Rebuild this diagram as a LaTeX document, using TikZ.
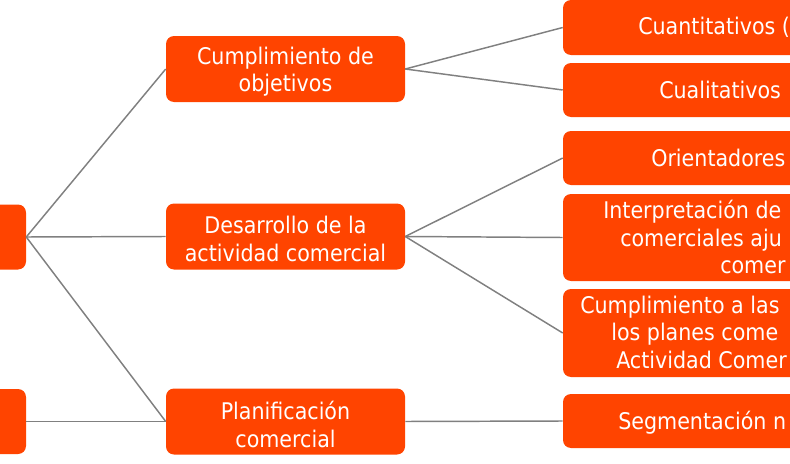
\documentclass[tikz,border=0pt]{standalone}
\usepackage{fontspec}
\setmainfont{DejaVu Sans Condensed}
\usepackage{tikz}
\definecolor{boxorange}{RGB}{255,68,0}
\definecolor{linegray}{RGB}{128,128,128}
\tikzset{font=\fontsize{17.2}{20.8}\selectfont}
\tikzset{item/.style={rectangle, rounded corners=6pt, fill=boxorange, text=white, align=center, inner sep=0pt}}
\tikzset{mid/.style={item, minimum width=179.25pt, minimum height=49.5pt}}
\tikzset{side/.style={item, minimum width=235.5pt}}
\tikzset{frag/.style={anchor=base west, inner sep=0pt, text=white}}

\begin{document}
\begin{tikzpicture}[x=0.75pt, y=-0.75pt]
  \useasboundingbox (0,0) rectangle (790,464);
  \clip (0,0) rectangle (790,464);
  %Nodes
  \node[mid, minimum height=48.75pt] (l1) at (-93.5,237) {};
  \node[mid, minimum height=48.75pt] (l2) at (-93.5,421.5) {};
  \node[mid] (m1) at (285.5,69) {};
  \node[mid] (m2) at (285.5,236.5) {};
  \node[mid] (m3) at (285.5,421.5) {};
  \node[side, minimum height=41.25pt] (r1) at (720,27.5) {};
  \node[side, minimum height=40.5pt] (r2) at (720,90) {};
  \node[side, minimum height=40.5pt] (r3) at (720,158) {};
  \node[side, minimum height=65.25pt] (r4) at (720,237.5) {};
  \node[side, minimum height=66pt] (r5) at (720,333) {};
  \node[side, minimum height=40.5pt] (r6) at (720,421) {};
  % Texts of the middle boxes
  \node[align=center, text=white, inner sep=0pt, yshift=-2pt] (m1t) at (m1) {Cumplimiento de\\objetivos};
  \node[align=center, text=white, inner sep=0pt, yshift=-2pt] (m2t) at (m2) {Desarrollo de la\\actividad comercial};
  \node[align=center, text=white, inner sep=0pt, yshift=-2pt] (m3t) at (m3) {Planificación\\comercial};
  % Texts of the right boxes
  \node[frag] (t1) at (638,35) {Cuantitativos (};
  \node[frag] (t2) at (659,98) {Cualitativos};
  \node[frag] (t3) at (651,166) {Orientadores};
  \node[frag] (t4a) at (603,218) {Interpretación de};
  \node[frag] (t4b) at (620,246) {comerciales aju};
  \node[frag] (t4c) at (720,273) {comer};
  \node[frag] (t5a) at (580,313) {Cumplimiento a las};
  \node[frag] (t5b) at (611,340) {los planes come};
  \node[frag] (t5c) at (616,368) {Actividad Comer};
  \node[frag] (t6) at (618,429) {Segmentación n};
  % Edges
  \begin{scope}[every edge/.style={draw=linegray, line width=1.1pt}]
    \draw (l1.east) edge (m1.west);
    \draw (l1.east) edge (m2.west);
    \draw (l1.east) edge (m3.west);
    \draw (l2.east) edge (m3.west);
    \draw (m1.east) edge (r1.west);
    \draw (m1.east) edge (r2.west);
    \draw (m2.east) edge (r3.west);
    \draw (m2.east) edge (r4.west);
    \draw (m2.east) edge (r5.west);
    \draw (m3.east) edge (r6.west);
  \end{scope}
\end{tikzpicture}
\end{document}
